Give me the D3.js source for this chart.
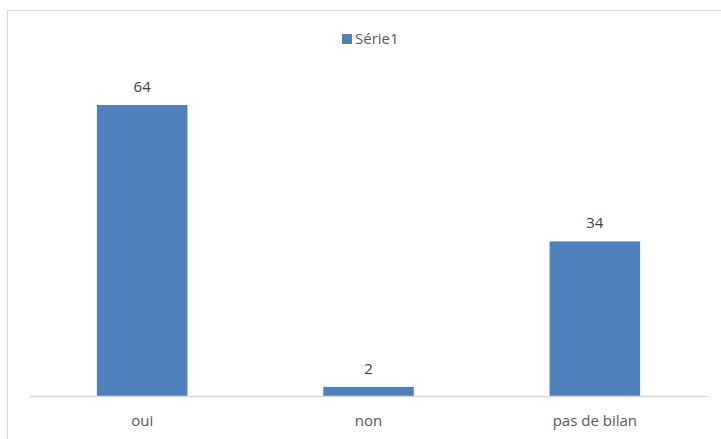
<!DOCTYPE html>
<html>
<head>
<meta charset="utf-8">
<script src="https://cdn.jsdelivr.net/npm/d3@7"></script>
<style>
  html, body { margin: 0; padding: 0; background: #fff; }
  svg { display: block; }
</style>
</head>
<body>
<script>
const categories = ["oui", "non", "pas de bilan"];
const values = [64, 2, 34];
const seriesName = "Série1";

const W = 721, H = 439;
const svg = d3.select("body").append("svg").attr("width", W).attr("height", H);

// chart area border
svg.append("rect")
  .attr("x", 7.5).attr("y", 10.5)
  .attr("width", 720).attr("height", 440)
  .attr("fill", "#fff").attr("stroke", "#d9d9d9").attr("stroke-width", 1);

const plot = { left: 29, right: 708, top: 60, bottom: 396 };

const x = d3.scaleBand().domain(categories)
  .range([plot.left, plot.right]).paddingInner(0.6).paddingOuter(0.3);
const y = d3.scaleLinear().domain([0, 70]).range([plot.bottom, plot.bottom - 70 * 4.547]);

const font = "'Open Sans', sans-serif";
const textColor = "#595959";

svg.selectAll("rect.bar").data(values).enter().append("rect")
  .attr("class", "bar")
  .attr("x", (d, i) => x(categories[i]))
  .attr("width", x.bandwidth())
  .attr("y", d => y(d))
  .attr("height", d => y(0) - y(d))
  .attr("fill", "#4f81bd");

// axis line
const xAxis = d3.axisBottom(x).tickSize(0).tickPadding(19);
const gx = svg.append("g").attr("transform", `translate(0,${plot.bottom})`).call(xAxis);
gx.select(".domain").attr("stroke", "#d9d9d9").attr("stroke-width", 1.3);
gx.selectAll("text")
  .attr("font-family", font).attr("font-size", "15px").attr("fill", textColor);

// value labels
svg.selectAll("text.val").data(values).enter().append("text")
  .attr("class", "val")
  .attr("x", (d, i) => x(categories[i]) + x.bandwidth() / 2)
  .attr("y", d => y(d) - 13)
  .attr("text-anchor", "middle")
  .attr("font-family", font).attr("font-size", "15px").attr("fill", "#404040")
  .text(d => d);

// legend
const lg = svg.append("g").attr("transform", "translate(342,34)");
lg.append("rect").attr("width", 10).attr("height", 10).attr("fill", "#4f81bd");
lg.append("text").attr("x", 13).attr("y", 10)
  .attr("font-family", font).attr("font-size", "15px").attr("fill", textColor)
  .text(seriesName);
</script>
</body>
</html>
